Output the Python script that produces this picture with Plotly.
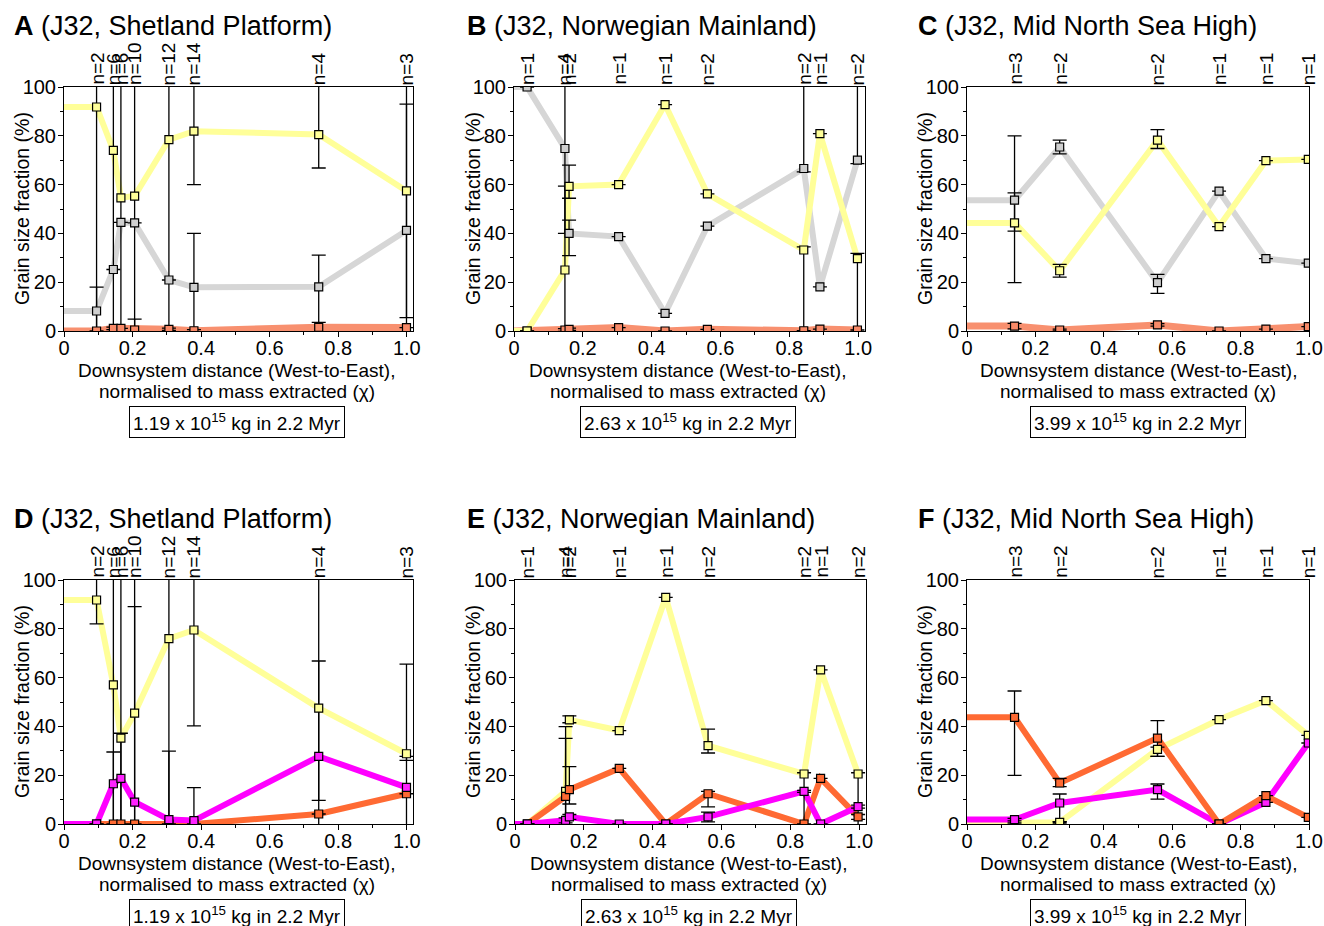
import plotly.graph_objects as go

# the page body margin is removed (see post_script), so the figure fills the window
OX, OY = 0, 0
W, H = 1324, 926
OFF = 200.0   # whisker that runs off the 0-100 scale
N = None      # no error bar

tick_vals = [0, 0.2, 0.4, 0.6, 0.8, 1.0]
tick_text = ["0", "0.2", "0.4", "0.6", "0.8", "1.0"]
y_tick_vals = [0, 20, 40, 60, 80, 100]

# ---------------- Panel A (J32, Shetland Platform) ----------------
A_x = [0.095, 0.144, 0.166, 0.206, 0.306, 0.379, 0.743, 0.999]
A_n = ["n=2", "n=6", "n=6", "n=10", "n=12", "n=14", "n=4", "n=3"]
A_yellow = [91.8, 74.0, 54.6, 55.3, 78.4, 81.9, 80.5, 57.4]
A_grey = [8.2, 25.2, 44.5, 44.3, 20.9, 17.9, 18.1, 41.2]
A_salmon = [0.0, 1.1, 1.1, 0.4, 0.7, 0.1, 1.5, 1.4]
A_yellow_ep = [OFF, OFF, OFF, OFF, OFF, OFF, OFF, 35.6]
A_yellow_em = [OFF, OFF, OFF, OFF, OFF, 21.9, 13.7, OFF]
A_grey_ep = [9.8, N, N, N, N, 22.1, 13.0, OFF]
A_grey_em = [OFF, N, N, N, N, OFF, OFF, 35.7]
A_salmon_ep = [N, 0.5, N, 4.5, 0.5, 0.5, 2.0, N]
A_salmon_em = [N, 0.5, N, OFF, 0.5, 0.5, OFF, N]

# ---------------- Panel B (J32, Norwegian Mainland) ----------------
B_x = [0.038, 0.148, 0.160, 0.304, 0.439, 0.562, 0.842, 0.889, 0.998]
B_n = ["n=1", "n=4", "n=2", "n=1", "n=1", "n=2", "n=2", "n=1", "n=2"]
B_yellow = [0.0, 25.0, 59.3, 60.0, 92.8, 56.2, 33.2, 80.9, 29.7]
B_grey = [100.0, 74.8, 40.0, 38.7, 7.2, 43.0, 66.6, 18.1, 70.0]
B_salmon = [0.0, 0.4, 0.7, 1.4, 0.0, 0.7, 0.1, 0.8, 0.4]
B_yellow_ep = [N, 34.4, 8.7, N, N, N, 1.3, N, 2.1]
B_yellow_em = [N, OFF, 4.9, N, N, N, OFF, N, OFF]
B_grey_ep = [N, OFF, 5.4, N, N, N, OFF, N, OFF]
B_grey_em = [N, 34.8, 9.1, N, N, N, 1.4, N, 1.4]
B_salmon_ep = [N, 0.6, 0.5, N, N, N, N, N, N]
B_salmon_em = [N, 0.6, 0.5, N, N, N, N, N, N]

# ---------------- Panel C (J32, Mid North Sea High) ----------------
C_x = [0.139, 0.271, 0.557, 0.737, 0.874, 0.998]
C_n = ["n=3", "n=2", "n=2", "n=1", "n=1", "n=1"]
C_yellow = [44.3, 24.7, 78.2, 42.8, 69.8, 70.3]
C_grey = [53.6, 75.4, 19.8, 57.3, 29.7, 27.8]
C_salmon = [2.0, 0.4, 2.5, 0.0, 0.8, 1.8]
C_yellow_ep = [12.3, 2.6, 4.3, N, N, N]
C_yellow_em = [24.5, 2.6, 3.4, N, N, N]
C_grey_ep = [26.4, 2.8, 3.4, N, N, N]
C_grey_em = [12.7, 2.8, 4.4, N, N, N]
C_salmon_ep = [1.1, 0.4, 0.5, N, N, N]
C_salmon_em = [1.1, 0.4, 0.5, N, N, N]

# ---------------- Panel D (J32, Shetland Platform) ----------------
D_x = [0.095, 0.144, 0.166, 0.206, 0.306, 0.379, 0.743, 0.999]
D_n = ["n=2", "n=6", "n=6", "n=10", "n=12", "n=14", "n=4", "n=3"]
D_yellow = [91.8, 57.0, 35.2, 45.4, 76.0, 79.5, 47.5, 28.8]
D_magenta = [0.0, 16.5, 18.7, 9.0, 1.8, 1.4, 27.7, 15.0]
D_orange = [0.0, 0.0, 0.0, 0.0, 0.0, 0.0, 4.1, 12.4]
D_yellow_ep = [9.8, OFF, 2.0, 43.7, OFF, OFF, 19.3, 36.7]
D_yellow_em = [9.8, OFF, OFF, OFF, OFF, 39.3, OFF, 2.7]
D_magenta_ep = [N, 13.0, OFF, OFF, 28.1, 13.5, OFF, 12.7]
D_magenta_em = [N, OFF, OFF, OFF, OFF, OFF, 18.0, OFF]
D_orange_ep = [N, N, N, N, N, N, N, N]
D_orange_em = [N, N, N, N, N, N, N, N]

# ---------------- Panel E (J32, Norwegian Mainland) ----------------
E_x = [0.036, 0.147, 0.158, 0.303, 0.438, 0.561, 0.840, 0.888, 0.997]
E_n = ["n=1", "n=4", "n=2", "n=1", "n=1", "n=2", "n=2", "n=1", "n=2"]
E_yellow = [0.0, 13.4, 42.7, 38.3, 92.9, 32.1, 20.5, 63.2, 20.5]
E_orange = [0.0, 11.3, 14.1, 22.8, 0.0, 12.4, 0.0, 18.7, 2.9]
E_magenta = [0.0, 1.5, 2.9, 0.0, 0.0, 2.9, 13.4, 0.0, 7.1]
E_yellow_ep = [N, 26.5, 1.6, N, N, 6.8, 0.5, N, 0.5]
E_yellow_em = [N, OFF, 1.2, N, N, 3.0, OFF, N, OFF]
E_orange_ep = [N, 23.8, 9.4, N, N, 1.0, N, N, 1.0]
E_orange_em = [N, OFF, 5.9, N, N, 5.4, N, N, 1.0]
E_magenta_ep = [N, 1.0, 1.0, N, N, 2.0, 0.4, N, 0.6]
E_magenta_em = [N, 1.0, 1.0, N, N, 2.0, 0.4, N, 0.6]

# ---------------- Panel F (J32, Mid North Sea High) ----------------
F_x = [0.139, 0.271, 0.557, 0.737, 0.874, 0.998]
F_n = ["n=3", "n=2", "n=2", "n=1", "n=1", "n=1"]
F_yellow = [0.4, 0.7, 30.6, 42.8, 50.6, 36.3]
F_orange = [43.7, 16.8, 35.2, 0.0, 11.6, 2.7]
F_magenta = [1.8, 8.6, 14.1, 0.0, 8.9, 33.2]
F_yellow_ep = [N, 0.3, 0.9, N, N, N]
F_yellow_em = [N, 0.3, 2.9, N, N, N]
F_orange_ep = [10.8, 1.9, 7.2, N, N, N]
F_orange_em = [23.8, 1.5, 7.5, N, N, N]
F_magenta_ep = [0.5, 3.7, 2.3, N, N, N]
F_magenta_em = [0.5, 7.6, 3.9, N, N, N]

panel_titles = ["A", "B", "C", "D", "E", "F"]
regions = ["J32, Shetland Platform", "J32, Norwegian Mainland", "J32, Mid North Sea High"] * 2
mass_text = ["1.19 x 10<sup>15</sup> kg in 2.2 Myr",
             "2.63 x 10<sup>15</sup> kg in 2.2 Myr",
             "3.99 x 10<sup>15</sup> kg in 2.2 Myr"] * 2

# ---------------- styles ----------------
LINE = {"yellow": "#FFFF99", "grey": "#D6D6D6", "salmon": "#F8906F",
        "orange": "#FF6A33", "magenta": "#FF00FF"}
FILL = {"yellow": "#FFFF99", "grey": "#CFCFCF", "salmon": "#F98A68",
        "orange": "#FF6A33", "magenta": "#FF22FF"}
LW = {"yellow": 6, "grey": 6, "salmon": 7, "orange": 6, "magenta": 6}
FONT = "Arial, Liberation Sans, sans-serif"


def fx(px):
    return (px - OX) / W


def fy(py):
    return 1 - (py - OY) / H


panels = [
    dict(x=A_x, n=A_n, xmax=1.018, box=(64, 413, 87, 331),
         series=[("salmon", A_salmon, A_salmon_ep, A_salmon_em),
                 ("grey", A_grey, A_grey_ep, A_grey_em),
                 ("yellow", A_yellow, A_yellow_ep, A_yellow_em)]),
    dict(x=B_x, n=B_n, xmax=1.02, box=(514, 865, 87, 331),
         series=[("salmon", B_salmon, B_salmon_ep, B_salmon_em),
                 ("grey", B_grey, B_grey_ep, B_grey_em),
                 ("yellow", B_yellow, B_yellow_ep, B_yellow_em)]),
    dict(x=C_x, n=C_n, xmax=1.0, box=(967, 1309, 87, 331),
         series=[("salmon", C_salmon, C_salmon_ep, C_salmon_em),
                 ("grey", C_grey, C_grey_ep, C_grey_em),
                 ("yellow", C_yellow, C_yellow_ep, C_yellow_em)]),
    dict(x=D_x, n=D_n, xmax=1.018, box=(64, 413, 580, 824),
         series=[("yellow", D_yellow, D_yellow_ep, D_yellow_em),
                 ("orange", D_orange, D_orange_ep, D_orange_em),
                 ("magenta", D_magenta, D_magenta_ep, D_magenta_em)]),
    dict(x=E_x, n=E_n, xmax=1.02, box=(515, 866, 580, 824),
         series=[("yellow", E_yellow, E_yellow_ep, E_yellow_em),
                 ("orange", E_orange, E_orange_ep, E_orange_em),
                 ("magenta", E_magenta, E_magenta_ep, E_magenta_em)]),
    dict(x=F_x, n=F_n, xmax=1.0, box=(967, 1309, 580, 824),
         series=[("yellow", F_yellow, F_yellow_ep, F_yellow_em),
                 ("magenta", F_magenta, F_magenta_ep, F_magenta_em),
                 ("orange", F_orange, F_orange_ep, F_orange_em)]),
]

fig = go.Figure()
annotations = []
layout_axes = {}

for i, p in enumerate(panels):
    k = "" if i == 0 else str(i + 1)
    xa, ya = "x" + k, "y" + k
    x0, x1, yt, yb = p["box"]
    layout_axes["xaxis" + k] = dict(
        domain=[fx(x0), fx(x1)], range=[0, p["xmax"]], anchor=ya,
        tickvals=tick_vals, ticktext=tick_text, ticks="outside", ticklen=5,
        tickwidth=1, tickcolor="black", showline=True, linecolor="black",
        linewidth=1, mirror=True, showgrid=False, zeroline=False,
        automargin=False, ticklabelstandoff=-6, fixedrange=True,
        tickfont=dict(family=FONT, size=20, color="black"),
        minor=dict(dtick=0.1, tick0=0, ticks="outside", ticklen=3,
                   tickcolor="black", showgrid=False))
    layout_axes["yaxis" + k] = dict(
        domain=[fy(yb), fy(yt)], range=[0, 100], anchor=xa,
        tickvals=y_tick_vals, ticks="outside", ticklen=5, tickwidth=1,
        tickcolor="black", showline=True, linecolor="black", linewidth=1,
        mirror=True, showgrid=False, zeroline=False, automargin=False,
        ticklabelstandoff=-2, fixedrange=True,
        tickfont=dict(family=FONT, size=20, color="black"),
        minor=dict(dtick=10, tick0=0, ticks="outside", ticklen=3,
                   tickcolor="black", showgrid=False))

    xs = p["x"]
    # colored lines (extended back to x = 0 at the first value)
    for name, ys, ep, em in p["series"]:
        fig.add_trace(go.Scatter(
            x=[0] + xs, y=[ys[0]] + ys, mode="lines", xaxis=xa, yaxis=ya,
            line=dict(color=LINE[name], width=LW[name]), hoverinfo="skip",
            showlegend=False))
    # error bars on top of the lines
    for name, ys, ep, em in p["series"]:
        fig.add_trace(go.Scatter(
            x=xs, y=ys, mode="markers", xaxis=xa, yaxis=ya,
            marker=dict(size=1, color="rgba(0,0,0,0)"),
            error_y=dict(type="data", symmetric=False, array=ep, arrayminus=em,
                         color="black", thickness=1.3, width=7),
            hoverinfo="skip", showlegend=False))
    # square markers
    for name, ys, ep, em in p["series"]:
        fig.add_trace(go.Scatter(
            x=xs, y=ys, mode="markers", xaxis=xa, yaxis=ya,
            marker=dict(symbol="square", size=8, color=FILL[name],
                        line=dict(color="black", width=1.2)),
            showlegend=False))

    # sample counts above the panel
    for xv, lab in zip(xs, p["n"]):
        annotations.append(dict(
            x=xv, y=1, xref=xa, yref=ya + " domain", text=lab, showarrow=False,
            textangle=-90, xanchor="center", yanchor="bottom", yshift=0,
            font=dict(family=FONT, size=19, color="black")))

    cx = (x0 + x1) / 2 - 2
    if i % 3 == 2:
        cx = (x0 + x1) / 2
    col = i % 3
    left_title = [12, 465, 916][col]
    ylab_x = [22, 473, 925][col]
    # panel title
    annotations.append(dict(
        x=fx(left_title), y=fy(yt - 61), xref="paper", yref="paper",
        text="<b>%s</b> (%s)" % (panel_titles[i], regions[i]), showarrow=False,
        xanchor="left", yanchor="middle",
        font=dict(family=FONT, size=27, color="black")))
    # y label
    annotations.append(dict(
        x=fx(ylab_x), y=fy((yt + yb) / 2), xref="paper", yref="paper",
        text="Grain size fraction (%)", showarrow=False, textangle=-90,
        xanchor="center", yanchor="middle",
        font=dict(family=FONT, size=19.5, color="black")))
    # x label (two lines)
    annotations.append(dict(
        x=fx(cx), y=fy(yb + 39), xref="paper", yref="paper",
        text="Downsystem distance (West-to-East),", showarrow=False,
        xanchor="center", yanchor="middle",
        font=dict(family=FONT, size=19, color="black")))
    annotations.append(dict(
        x=fx(cx), y=fy(yb + 60), xref="paper", yref="paper",
        text="normalised to mass extracted (χ)", showarrow=False,
        xanchor="center", yanchor="middle",
        font=dict(family=FONT, size=19, color="black")))
    # mass box
    annotations.append(dict(
        x=fx(cx), y=fy(yb + 91), xref="paper", yref="paper",
        text=mass_text[i], showarrow=False, xanchor="center", yanchor="middle",
        bordercolor="black", borderwidth=1, borderpad=3, bgcolor="white",
        font=dict(family=FONT, size=19, color="black")))

fig.update_layout(
    width=W, height=H,
    margin=dict(l=0, r=0, t=0, b=0, pad=0, autoexpand=False),
    paper_bgcolor="white", plot_bgcolor="white", showlegend=False,
    hovermode=False,
    annotations=annotations, **layout_axes)

fig.write_html(
    "out.html",
    config={"displayModeBar": False, "staticPlot": True},
    post_script="document.body.style.margin='0';"
                "document.body.style.overflow='hidden';")
